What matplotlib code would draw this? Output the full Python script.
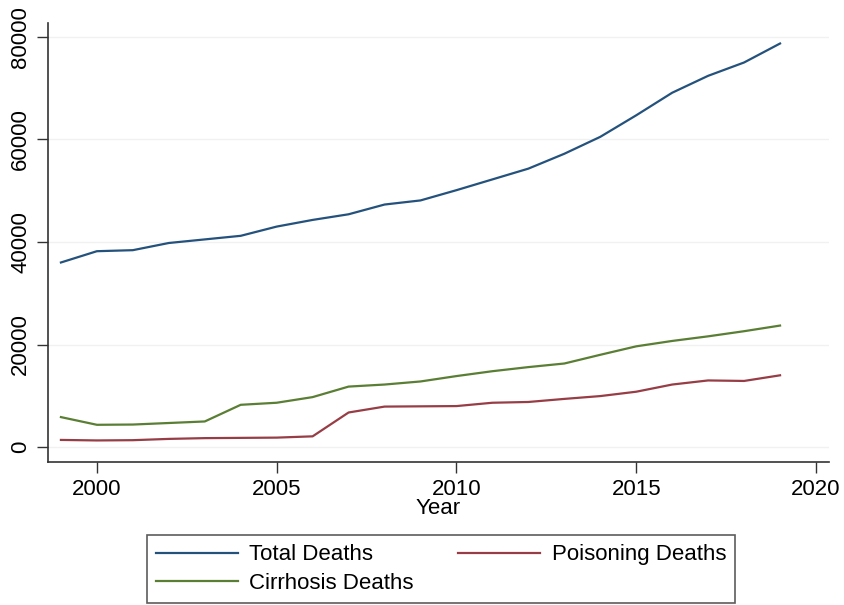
import matplotlib.pyplot as plt

plt.rcParams['font.family'] = ['Liberation Sans', 'DejaVu Sans']

years = list(range(1999, 2020))
total = [36000, 38200, 38400, 39800, 40500, 41200, 43000, 44300, 45400, 47300, 48100,
         50100, 52200, 54300, 57200, 60500, 64700, 69100, 72400, 75000, 78700]
poisoning = [1400, 1300, 1350, 1600, 1750, 1800, 1850, 2100, 6750, 7900, 7950,
             8000, 8650, 8800, 9400, 9950, 10800, 12200, 13000, 12900, 14000]
cirrhosis = [5850, 4350, 4400, 4700, 5000, 8250, 8650, 9750, 11800, 12200, 12800,
             13850, 14800, 15600, 16300, 18000, 19650, 20700, 21600, 22600, 23700]

yticks = [0, 20000, 40000, 60000, 80000]
xticks = [2000, 2005, 2010, 2015, 2020]

fig = plt.figure(figsize=(8.45, 6.05), dpi=100)
ax = fig.add_axes([0.0568, 0.2364, 0.9242, 0.7256])

l_total, = ax.plot(years, total, color='#24527D', lw=1.6)
l_pois, = ax.plot(years, poisoning, color='#973D45', lw=1.6)
l_cirr, = ax.plot(years, cirrhosis, color='#5A7E34', lw=1.6)

ax.set_xlim(1998.64, 2020.36)
ax.set_ylim(-2900, 82700)
ax.set_xticks(xticks)
ax.set_yticks(yticks)
ax.set_yticklabels([str(v) for v in yticks], rotation=90, va='center')
ax.tick_params(labelsize=16, length=8, width=1, color='#333333', pad=4)
ax.set_xlabel('Year', fontsize=16, labelpad=-1)

for y in yticks:
    ax.axhline(y, color='#F1F1F1', lw=1, zorder=0)

for side in ['top', 'right']:
    ax.spines[side].set_visible(False)
for side in ['left', 'bottom']:
    ax.spines[side].set_color('#333333')
    ax.spines[side].set_linewidth(1.2)

# column-major fill: first column Total/Cirrhosis, second Poisoning
leg = fig.legend([l_total, l_cirr, l_pois],
                 ['Total Deaths', 'Cirrhosis Deaths', 'Poisoning Deaths'],
                 loc='lower center', bbox_to_anchor=(441 / 845, 2 / 605),
                 ncol=2, fontsize=16, frameon=True, fancybox=False,
                 handlelength=3.7, handletextpad=0.5, borderaxespad=0, labelspacing=0.35,
                 borderpad=0.4, columnspacing=2.0)
leg.get_frame().set_edgecolor('#333333')
leg.get_frame().set_linewidth(1.2)

fig.savefig('out.png', dpi=100)
